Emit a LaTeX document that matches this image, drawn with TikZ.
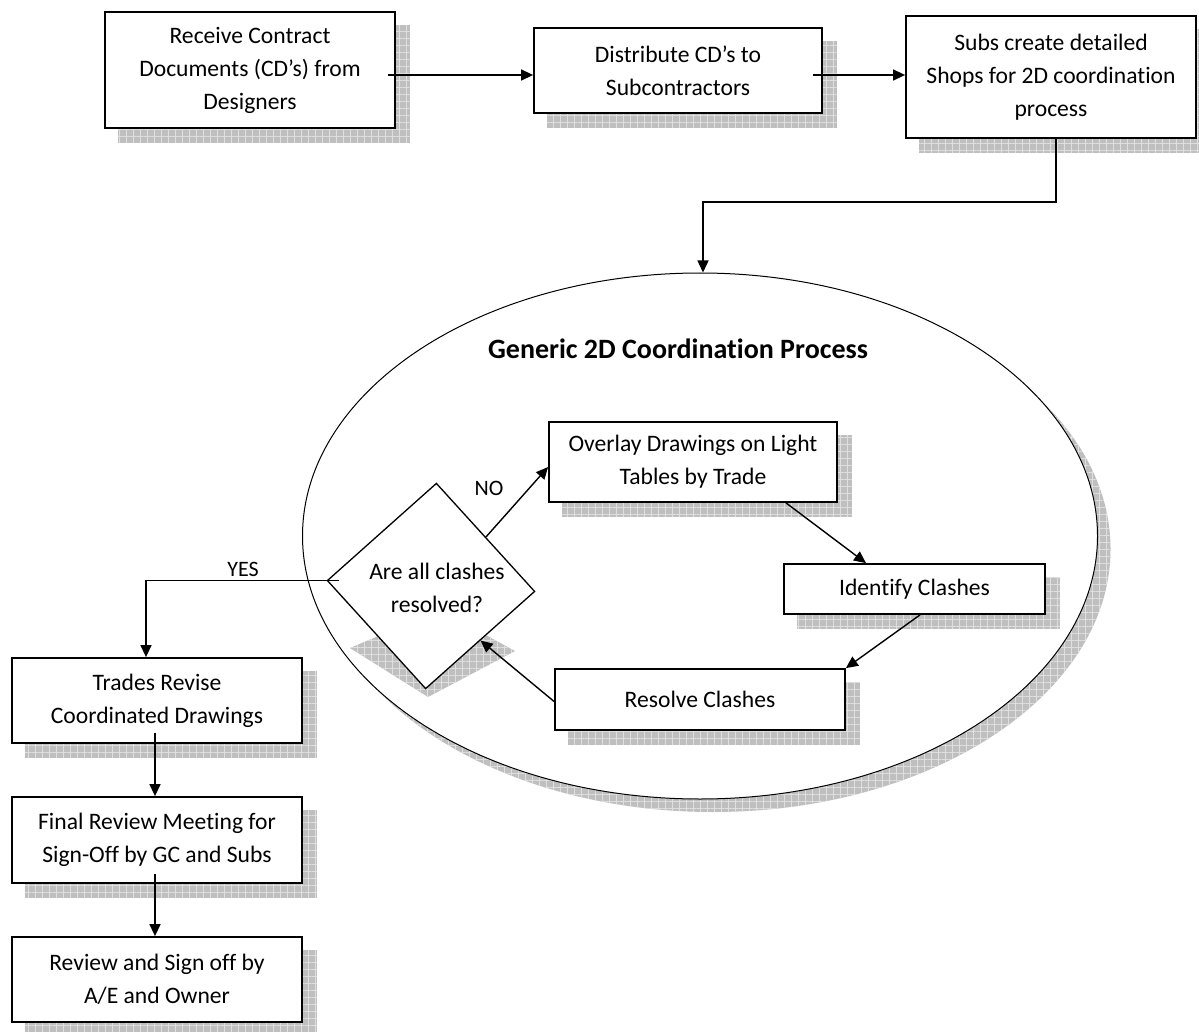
\documentclass[tikz,border=0pt]{standalone}
\usepackage{fontspec}
\setmainfont{Carlito}[Ligatures=NoCommon]
\usetikzlibrary{arrows.meta,shapes.geometric,patterns.meta}
\pgfdeclarelayer{back0}
\pgfdeclarelayer{back1}
\pgfsetlayers{back0,back1,main}
\begin{document}
\begin{tikzpicture}[x=1pt,y=-1pt,
  box/.style={draw, line width=1.8pt, fill=white, align=center, inner sep=0pt,
    font=\fontsize{23.6}{33}\selectfont},
  shd/.style={fill=gray!50, postaction={pattern color=white!75!gray,
    pattern={Hatch[angle=0,distance=7pt,line width=0.5pt]}}},
  arr/.style={draw, line width=1.4pt, -{Triangle[length=12pt,width=11pt]}},
  lbl/.style={font=\fontsize{22}{26}\selectfont},
  dtext/.style={align=center, font=\fontsize{23.6}{33}\selectfont}]
\useasboundingbox (0,0) rectangle (1199,1032);

% ellipse with its shadow
\begin{pgfonlayer}{back0}
  \node[ellipse, shd, draw=none, minimum width=795pt, minimum height=526pt, inner sep=0pt] (ellshd) at (713,549) {};
  \node[ellipse, draw, line width=1pt, fill=white, minimum width=795pt, minimum height=526pt, inner sep=0pt] (ell) at (700,536) {};
\end{pgfonlayer}

% top row
\node[box, minimum width=290pt, minimum height=116pt] (b1) at (250,70) {Receive Contract\\Documents (CD’s) from\\Designers};
\node[box, minimum width=288pt, minimum height=85pt] (b2) at (678,70.5) {Distribute CD’s to\\Subcontractors};
\node[box, minimum width=290pt, minimum height=122pt] (b3) at (1051,77) {Subs create detailed\\Shops for 2D coordination\\process};

% title
\node[font=\bfseries\fontsize{28}{32}\selectfont] (title) at (678,349) {Generic 2D Coordination Process};

% inner loop
\node[box, minimum width=288pt, minimum height=80pt] (ov) at (693,462) {Overlay Drawings on Light\\Tables by Trade};
\node[box, minimum width=261pt, minimum height=50pt] (id) at (914.5,589) {Identify Clashes};
\node[box, minimum width=290pt, minimum height=61pt] (rs) at (700,699.5) {Resolve Clashes};
\node[diamond, draw, line width=1.3pt, fill=white, minimum width=208pt, minimum height=206pt, inner sep=0pt, rotate=-3] (d) at (431,586) {};
\node[dtext] (dtx) at ([shift={(6,2)}]d.center) {Are all clashes\\resolved?};

% left column
\node[box, minimum width=290pt, minimum height=85pt] (tr) at (157,700.5) {Trades Revise\\Coordinated Drawings};
\node[box, minimum width=290pt, minimum height=86pt] (fr) at (157,840) {Final Review Meeting for\\Sign-Off by GC and Subs};
\node[box, minimum width=290pt, minimum height=85pt] (rv) at (157,979.5) {Review and Sign off by\\A/E and Owner};

% shadows
\begin{pgfonlayer}{back1}
  \foreach \n in {b1,b2,b3,ov,id,rs,tr,fr,rv}
    \fill[shd] ([shift={(14,14)}]\n.south west) rectangle ([shift={(14,14)}]\n.north east);
  \fill[shd] ([shift={(-81,62)}]d.center) -- ([shift={(9,24)}]d.center) -- ([shift={(84,65)}]d.center) -- ([shift={(-3,111)}]d.center) -- cycle;
\end{pgfonlayer}

% connectors
\coordinate (k1) at (703,202);
\draw[arr] ([shift={(-8,5)}]b1.east) -- ([yshift=-4.5pt]b2.west);
\draw[arr] ([shift={(-10,4.5)}]b2.east) -- ([yshift=2pt]b3.west);
\draw[arr] ([xshift=5pt]b3.south) |- (k1) -- (k1 |- ell.north);
\draw[arr] ([xshift=93pt]ov.south) -- ([xshift=-48.5pt]id.north);
\draw[arr] ([xshift=5.5pt]id.south) -- (rs.north east);
\draw[arr] ([yshift=-2pt]rs.west) -- (d.south east);
\draw[arr] (d.north east) -- ([yshift=-5pt]ov.west);
\draw[arr] ([xshift=13pt]d.west) -| ([xshift=-11pt]tr.north);
\draw[arr] ([shift={(-2,-11)}]tr.south) -- ([xshift=-2pt]fr.north);
\draw[arr] ([shift={(-2,-10)}]fr.south) -- ([xshift=-2pt]rv.north);

% labels
\node[lbl] (no) at (489,488) {NO};
\node[lbl] (yes) at (243,569) {YES};
\end{tikzpicture}
\end{document}
